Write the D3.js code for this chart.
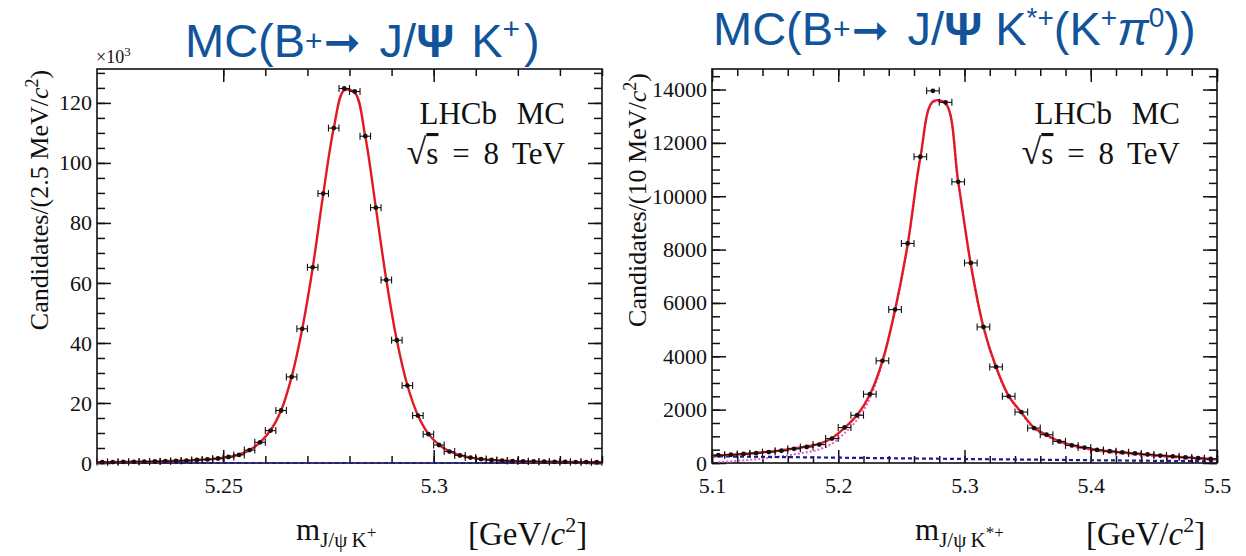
<!DOCTYPE html>
<html lang="en">
<head>
<meta charset="utf-8">
<title>LHCb MC mass fits</title>
<script src="https://d3js.org/d3.v7.min.js"></script>
<style>
  body { margin: 0; background: white; }
  .tick-label { font-family: "Liberation Serif", serif; font-size: 22px; fill: #111; }
  .axis-title { font-family: "Liberation Serif", serif; fill: #111; }
  .lhcb { font-family: "Liberation Serif", serif; font-size: 31px; fill: #111; }
  .title { font-family: "Liberation Sans", Arial, sans-serif; font-size: 47px; fill: #12549c; }
  .frame { fill: none; stroke: #111; stroke-width: 1.6px; }
</style>
</head>
<body>
<script>
const W = 1246, H = 556;

// ---- left panel: B+ -> J/psi K+ (counts in units of 10^3, 2.5 MeV bins)
const leftBins = [5.22125, 5.22375, 5.22625, 5.22875, 5.23125, 5.23375, 5.23625, 5.23875,
  5.24125, 5.24375, 5.24625, 5.24875, 5.25125, 5.25375, 5.25625, 5.25875, 5.26125, 5.26375,
  5.26625, 5.26875, 5.27125, 5.27375, 5.27625, 5.27875, 5.28125, 5.28375, 5.28625, 5.28875,
  5.29125, 5.29375, 5.29625, 5.29875, 5.30125, 5.30375, 5.30625, 5.30875, 5.31125, 5.31375,
  5.31625, 5.31875, 5.32125, 5.32375, 5.32625, 5.32875, 5.33125, 5.33375, 5.33625, 5.33875];
const leftCounts = [0.3, 0.3, 0.35, 0.4, 0.45, 0.5, 0.6, 0.7, 0.8, 1.0, 1.2, 1.5, 2.0, 2.7,
  4.3, 6.9, 10.8, 17.5, 28.7, 44.7, 65.2, 89.8, 111.6, 124.8, 123.8, 108.9, 85.1, 61.0,
  40.9, 25.8, 15.8, 9.6, 6.0, 3.8, 2.5, 1.8, 1.3, 1.0, 0.8, 0.65, 0.55, 0.5, 0.45, 0.4,
  0.35, 0.3, 0.3, 0.25];
const leftFit = [0.3, 0.3, 0.35, 0.4, 0.45, 0.5, 0.6, 0.7, 0.8, 1.0, 1.2, 1.5, 2.0, 2.8,
  4.3, 6.9, 10.9, 17.5, 28.7, 44.6, 65.0, 89.5, 111.5, 124.2, 123.4, 108.8, 85.2, 61.0,
  40.9, 25.9, 15.9, 9.7, 6.1, 3.9, 2.6, 1.8, 1.3, 1.0, 0.8, 0.65, 0.55, 0.5, 0.45, 0.4,
  0.35, 0.3, 0.3, 0.25];
const leftFitEdges = [0.3, 0.25];
const leftBkg = [[5.22, 0], [5.34, 0]];
const leftYMajor = [0, 20, 40, 60, 80, 100, 120];
const leftXMajor = [5.25, 5.3];

// ---- right panel: B+ -> J/psi K*+ (K+ pi0) (10 MeV bins)
const rightBins = [5.105, 5.115, 5.125, 5.135, 5.145, 5.155, 5.165, 5.175, 5.185, 5.195,
  5.205, 5.215, 5.225, 5.235, 5.245, 5.255, 5.265, 5.275, 5.285, 5.295,
  5.305, 5.315, 5.325, 5.335, 5.345, 5.355, 5.365, 5.375, 5.385, 5.395,
  5.405, 5.415, 5.425, 5.435, 5.445, 5.455, 5.465, 5.475, 5.485, 5.495];
const rightCounts = [290, 310, 340, 370, 410, 460, 530, 600, 690, 915,
  1330, 1790, 2580, 3830, 5750, 8230, 11480, 13950, 13520, 10540,
  7500, 5100, 3600, 2500, 1910, 1310, 1060, 810, 660, 580,
  490, 440, 400, 360, 320, 280, 250, 210, 180, 150];
const rightFit = [290, 310, 340, 375, 420, 475, 545, 620, 720, 930,
  1320, 1800, 2560, 3820, 5740, 8200, 11450, 13550, 13480, 10550,
  7450, 5100, 3600, 2520, 1900, 1330, 1050, 820, 670, 570,
  490, 440, 395, 355, 315, 280, 245, 210, 180, 150];
const rightFitEdges = [280, 140];
const rightSig = [40, 65, 100, 140, 190, 250, 325, 405, 510, 725,
  1120, 1620, 2420, 3780, 5700, 8160, 11410, 13510, 13440, 10510,
  7410, 5060, 3560, 2480, 1860, 1290, 1010, 780, 630, 530,
  450, 400, 355, 315, 275, 240, 205, 170, 140, 110];
const rightBkg = [[5.1, 250], [5.3, 150], [5.5, 60]];
const rightYMajor = [0, 2000, 4000, 6000, 8000, 10000, 12000, 14000];
const rightXMajor = [5.1, 5.2, 5.3, 5.4, 5.5];

const svg = d3.select("body").append("svg")
  .attr("width", W).attr("height", H);
svg.append("rect").attr("width", W).attr("height", H).attr("fill", "white");

function drawPanel(p) {
  const x = d3.scaleLinear().domain(p.xDomain).range([p.left, p.right]);
  const y = d3.scaleLinear().domain(p.yDomain).range([p.bottom, p.top]);
  const g = svg.append("g");

  function addAxis(axis, tr, vals, size, fmt, pad) {
    const a = g.append("g").attr("transform", tr)
      .call(axis.tickValues(vals).tickSize(-size).tickPadding(pad).tickFormat(fmt));
    a.select(".domain").remove();
    a.selectAll("line").attr("stroke", "#111").attr("stroke-width", 1.5);
    a.selectAll("text").attr("class", "tick-label");
    return a;
  }
  const none = () => "";
  // minor ticks on all four sides
  addAxis(d3.axisBottom(x), `translate(0,${p.bottom})`, p.xMinor, 7, none, 0);
  addAxis(d3.axisTop(x), `translate(0,${p.top})`, p.xMinor, 7, none, 0);
  addAxis(d3.axisLeft(y), `translate(${p.left},0)`, p.yMinor, 8, none, 0);
  addAxis(d3.axisRight(y), `translate(${p.right},0)`, p.yMinor, 8, none, 0);
  // major ticks
  addAxis(d3.axisBottom(x), `translate(0,${p.bottom})`, p.xMajor, 13, p.xFmt, 14);
  addAxis(d3.axisTop(x), `translate(0,${p.top})`, p.xMajor, 13, none, 0);
  addAxis(d3.axisLeft(y), `translate(${p.left},0)`, p.yMajor, 14, p.yFmt, 5);
  addAxis(d3.axisRight(y), `translate(${p.right},0)`, p.yMajor, 14, none, 0);

  g.append("rect").attr("class", "frame")
    .attr("x", p.left).attr("y", p.top)
    .attr("width", p.right - p.left).attr("height", p.bottom - p.top);

  const smooth = d3.line().x(d => x(d[0])).y(d => y(d[1]))
    .curve(d3.curveCatmullRom.alpha(0.5));
  const straight = d3.line().x(d => x(d[0])).y(d => y(d[1]));

  if (p.sig) {
    g.append("path").datum(p.sig).attr("d", smooth)
      .attr("fill", "none").attr("stroke", "#e060c8")
      .attr("stroke-width", 2).attr("stroke-dasharray", "2,2");
  }
  g.append("path").datum(p.bkg).attr("d", straight)
    .attr("fill", "none").attr("stroke", "#1c1c96")
    .attr("stroke-width", 2.2).attr("stroke-dasharray", "4,3");

  g.append("path").datum(p.fit).attr("d", smooth)
    .attr("fill", "none").attr("stroke", "#e01a22").attr("stroke-width", 2.4);

  const pts = g.append("g").selectAll("g").data(p.points).join("g");
  pts.append("line")
    .attr("x1", d => x(d[0] - p.bw / 2)).attr("x2", d => x(d[0] + p.bw / 2))
    .attr("y1", d => y(d[1])).attr("y2", d => y(d[1]))
    .attr("stroke", "#111").attr("stroke-width", 1.1);
  [-1, 1].forEach(s => {
    pts.append("line")
      .attr("x1", d => x(d[0] + s * p.bw / 2)).attr("x2", d => x(d[0] + s * p.bw / 2))
      .attr("y1", d => y(d[1]) - 3.5).attr("y2", d => y(d[1]) + 3.5)
      .attr("stroke", "#111").attr("stroke-width", 1.1);
  });
  pts.append("circle")
    .attr("cx", d => x(d[0])).attr("cy", d => y(d[1])).attr("r", 2.4)
    .attr("fill", "#111");

  // y axis title
  const yt = g.append("text").attr("class", "axis-title")
    .attr("font-size", 26)
    .attr("transform", `translate(${p.yTitleX},${p.yTitleY}) rotate(-90)`)
    .attr("text-anchor", "middle");
  yt.append("tspan").text(p.yTitle);
  yt.append("tspan").attr("font-style", "italic").text("c");
  yt.append("tspan").attr("font-size", 18).attr("dy", -10).text("2");
  yt.append("tspan").attr("dy", 10).text(")");

  // x axis title
  const xt = g.append("text").attr("class", "axis-title")
    .attr("x", p.mX).attr("y", 540).attr("font-size", 31);
  xt.append("tspan").text("m");
  xt.append("tspan").attr("font-size", 21).attr("dy", 7).text("J/\u03c8\u2009K");
  xt.append("tspan").attr("font-size", 17).attr("dy", -9).text(p.kSup);
  const ut = g.append("text").attr("class", "axis-title")
    .attr("x", p.unitX).attr("y", 545).attr("font-size", 33);
  ut.append("tspan").text("[GeV/");
  ut.append("tspan").attr("font-style", "italic").text("c");
  ut.append("tspan").attr("font-size", 22).attr("dy", -13).text("2");
  ut.append("tspan").attr("dy", 13).text("]");

  // LHCb label
  g.append("text").attr("class", "lhcb").attr("x", p.right - 37).attr("y", p.top + 55)
    .attr("text-anchor", "end").attr("word-spacing", 12).text("LHCb MC");
  const s = g.append("text").attr("class", "lhcb").attr("x", p.right - 37).attr("y", p.top + 95)
    .attr("text-anchor", "end").attr("word-spacing", 6);
  s.append("tspan").attr("font-size", 36).text("\u221a");
  s.append("tspan").attr("text-decoration", "overline").text("s");
  s.append("tspan").text(" = 8 TeV");
  return {x, y, g};
}

// left panel
const L = drawPanel({
  left: 97, right: 602, top: 69, bottom: 463,
  xDomain: [5.22, 5.34], yDomain: [0, 131.3],
  xMajor: leftXMajor, xMinor: d3.range(3, 35).map(i => 5.22 + i * 0.01).filter(v => v < 5.3401),
  yMajor: leftYMajor, yMinor: d3.range(0, 131, 5),
  xFmt: d => d === 5.3 ? "5.3" : d3.format(".2f")(d), yFmt: d3.format("d"),
  bw: 0.0025,
  points: leftBins.map((b, i) => [b, leftCounts[i]]),
  fit: [[5.22, leftFitEdges[0]], ...leftBins.map((b, i) => [b, leftFit[i]]), [5.34, leftFitEdges[1]]],
  bkg: leftBkg,
  yTitle: "Candidates/(2.5 MeV/", yTitleX: 48, yTitleY: 200,
  mX: 296, unitX: 468, kSup: "+"
});
L.g.append("text").attr("class", "axis-title").attr("x", 96).attr("y", 63)
  .attr("font-size", 18).text("\u00d710")
  .append("tspan").attr("font-size", 13).attr("dy", -7).text("3");

// right panel
drawPanel({
  left: 712, right: 1217, top: 69, bottom: 463,
  xDomain: [5.1, 5.5], yDomain: [0, 14770],
  xMajor: rightXMajor, xMinor: d3.range(0, 21).map(i => 5.1 + i * 0.02),
  yMajor: rightYMajor, yMinor: d3.range(0, 14770, 500),
  xFmt: d3.format(".1f"), yFmt: d3.format("d"),
  bw: 0.01,
  points: rightBins.map((b, i) => [b, rightCounts[i]]),
  fit: [[5.1, rightFitEdges[0]], ...rightBins.map((b, i) => [b, rightFit[i]]), [5.5, rightFitEdges[1]]],
  sig: rightBins.map((b, i) => [b, rightSig[i]]),
  bkg: rightBkg,
  yTitle: "Candidates/(10 MeV/", yTitleX: 646, yTitleY: 200,
  mX: 915, unitX: 1086, kSup: "*+"
});

// titles
function arrow(t) {
  t.append("tspan").attr("dy", 6).attr("dx", 1)
    .attr("font-family", "DejaVu Sans").attr("font-size", 44).text("\u279e");
}
const t1 = svg.append("text").attr("class", "title").attr("x", 185).attr("y", 57);
t1.append("tspan").text("MC(B");
t1.append("tspan").attr("font-size", 30).attr("dy", -6).text("+");
arrow(t1);
t1.append("tspan").attr("dx", 6).text(" J/");
t1.append("tspan").attr("font-weight", "bold").text("\u03a8");
t1.append("tspan").attr("dx", 4).text(" K");
t1.append("tspan").attr("font-size", 30).attr("dy", -18).text("+");
t1.append("tspan").attr("dy", 18).attr("dx", 4).text(")");

const t2 = svg.append("text").attr("class", "title").attr("x", 713).attr("y", 45);
t2.append("tspan").text("MC(B");
t2.append("tspan").attr("font-size", 30).attr("dy", -6).text("+");
arrow(t2);
t2.append("tspan").attr("dx", 6).text(" J/");
t2.append("tspan").attr("font-weight", "bold").text("\u03a8");
t2.append("tspan").text(" K");
t2.append("tspan").attr("font-size", 28).attr("dy", -18).text("*+");
t2.append("tspan").attr("dy", 18).text("(K");
t2.append("tspan").attr("font-size", 28).attr("dy", -18).text("+");
t2.append("tspan").attr("dy", 18).attr("font-style", "italic").text("\u03c0");
t2.append("tspan").attr("font-size", 28).attr("dy", -18).text("0");
t2.append("tspan").attr("dy", 18).text("))");
</script>
</body>
</html>
